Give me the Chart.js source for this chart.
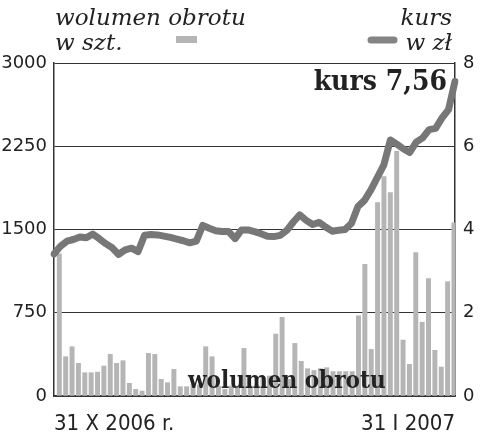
<!DOCTYPE html>
<html>
<head>
<meta charset="utf-8">
<script src="https://cdn.jsdelivr.net/npm/chart.js@4.4.0/dist/chart.umd.min.js"></script>
<style>
  html, body { margin: 0; padding: 0; background: #fff; }
  #wrap { width: 500px; height: 442px; }
</style>
</head>
<body>
<div id="wrap"><canvas id="kursChart" width="500" height="442"></canvas></div>
<script>
// trading days 31 X 2006 - 31 I 2007
var days = ['31.10',
	'2.11','3.11','6.11','7.11','8.11','9.11','10.11','13.11','14.11','15.11','16.11','17.11',
	'20.11','21.11','22.11','23.11','24.11','27.11','28.11','29.11','30.11',
	'1.12','4.12','5.12','6.12','7.12','8.12','11.12','12.12','13.12','14.12','15.12',
	'18.12','19.12','20.12','21.12','22.12','27.12','28.12','29.12',
	'2.01','3.01','4.01','5.01','8.01','9.01','10.01','11.01','12.01','15.01','16.01',
	'17.01','18.01','19.01','22.01','23.01','24.01','25.01','26.01','29.01','30.01','31.01'];

var endLabels = ['31 X 2006 r.', '31 I 2007'];

// wolumen obrotu, w szt.
var volume = [1280, 354, 444, 294, 210, 210, 215, 270, 375, 294,
	318, 114, 60, 45, 384, 375, 150, 120, 240, 84,
	84, 100, 100, 444, 354, 90, 60, 90, 90, 429,
	90, 100, 170, 180, 558, 709, 150, 474, 312, 246,
	230, 246, 255, 220, 220, 220, 220, 723, 1187, 420,
	1742, 1976, 1832, 2205, 504, 285, 1292, 665, 1058, 412,
	261, 1030, 1559];

// kurs, w zl
var price = [3.41, 3.60, 3.72, 3.76, 3.82, 3.80, 3.89, 3.78, 3.66, 3.56,
	3.40, 3.51, 3.55, 3.47, 3.86, 3.88, 3.87, 3.84, 3.81, 3.77,
	3.73, 3.68, 3.72, 4.10, 4.03, 3.97, 3.95, 3.95, 3.78, 3.99,
	3.99, 3.95, 3.90, 3.84, 3.83, 3.86, 3.98, 4.18, 4.35, 4.22,
	4.12, 4.17, 4.06, 3.96, 3.98, 4.00, 4.15, 4.55, 4.70, 4.95,
	5.25, 5.55, 6.15, 6.05, 5.94, 5.85, 6.10, 6.20, 6.40, 6.43,
	6.68, 6.88, 7.56];

var volumeTicks = [0, 750, 1500, 2250, 3000];
var priceTicks = [0, 2, 4, 6, 8];

var barColor = '#b5b5b5';
var lineColor = '#777';
var ink = '#222';
var tickFont = { family: "'DejaVu Sans', sans-serif", size: 18 };
var dateFont = { family: "'DejaVu Sans Condensed', 'DejaVu Sans', sans-serif", size: 22 };

var headerPlugin = {
	id: 'header',
	afterDatasetsDraw: function(chart) {
		var ctx = chart.ctx;
		var area = chart.chartArea;
		ctx.save();
		ctx.fillStyle = ink;
		ctx.textBaseline = 'alphabetic';
		// legend texts
		ctx.font = "italic 23px 'DejaVu Serif', serif";
		ctx.textAlign = 'left';
		ctx.fillText('wolumen obrotu', 55, 25);
		ctx.fillText('w szt.', 55, 50);
		ctx.textAlign = 'right';
		ctx.fillText('kurs', 452, 25);
		ctx.fillText('w zł', 452, 50);
		// swatches
		ctx.fillStyle = barColor;
		ctx.fillRect(176, 36, 21, 7);
		ctx.strokeStyle = '#848484';
		ctx.lineWidth = 7;
		ctx.lineCap = 'round';
		ctx.beginPath();
		ctx.moveTo(371, 40);
		ctx.lineTo(394, 40);
		ctx.stroke();
		// labels inside the plot
		ctx.fillStyle = ink;
		ctx.font = "bold 28px 'DejaVu Serif Condensed', 'DejaVu Serif', serif";
		ctx.textAlign = 'right';
		ctx.fillText('kurs 7,56', 447, 90);
		ctx.font = "bold 24px 'DejaVu Serif Condensed', 'DejaVu Serif', serif";
		ctx.textAlign = 'left';
		ctx.fillText('wolumen obrotu', 188, area.bottom - 8);
		ctx.restore();
	}
};

var ctx = document.getElementById('kursChart').getContext('2d');
var chart = new Chart(ctx, {
	type: 'bar',
	data: {
		labels: days,
		datasets: [{
			type: 'line',
			label: 'kurs',
			data: price,
			xAxisID: 'x2',
			yAxisID: 'y1',
			borderColor: lineColor,
			borderWidth: 7,
			borderJoinStyle: 'round',
			borderCapStyle: 'round',
			pointRadius: 0,
			tension: 0,
			order: 1
		}, {
			label: 'wolumen obrotu',
			data: volume,
			xAxisID: 'x',
			yAxisID: 'y',
			backgroundColor: barColor,
			borderWidth: 0,
			barThickness: 4.3,
			order: 2
		}]
	},
	options: {
		responsive: false,
		animation: false,
		layout: { padding: { top: 63, left: 0, right: 0, bottom: 0 } },
		plugins: {
			legend: { display: false },
			title: { display: false },
			tooltip: { enabled: false }
		},
		scales: {
			x: {
				type: 'category',
				display: false,
				offset: true
			},
			x2: {
				type: 'category',
				labels: days,
				position: 'bottom',
				offset: false,
				grid: { display: false },
				border: { color: '#333', width: 1.5 },
				afterFit: function(scale) { scale.height = 46; },
				ticks: {
					autoSkip: false,
					maxRotation: 0,
					align: 'inner',
					padding: 7,
					color: ink,
					font: dateFont,
					callback: function(v, i) {
						if (i === 0) return endLabels[0];
						if (i === days.length - 1) return endLabels[1];
						return '';
					}
				}
			},
			y: {
				position: 'left',
				min: 0,
				max: 3000,
				afterBuildTicks: function(scale) {
					scale.ticks = volumeTicks.map(function(v) { return { value: v }; });
				},
				afterFit: function(scale) { scale.width = 54; },
				grid: { color: '#333', lineWidth: 1, drawTicks: false },
				border: { color: '#333', width: 1.5 },
				ticks: {
					color: ink, font: tickFont, padding: 7,
					callback: function(v) { return String(v); }
				}
			},
			y1: {
				position: 'right',
				min: 0,
				max: 8,
				afterBuildTicks: function(scale) {
					scale.ticks = priceTicks.map(function(v) { return { value: v }; });
				},
				afterFit: function(scale) { scale.width = 45; },
				grid: { display: false, drawTicks: false },
				border: { color: '#333', width: 1.5 },
				ticks: {
					color: ink, font: tickFont, padding: 8,
					callback: function(v) { return String(v); }
				}
			}
		}
	},
	plugins: [headerPlugin]
});
</script>
</body>
</html>
